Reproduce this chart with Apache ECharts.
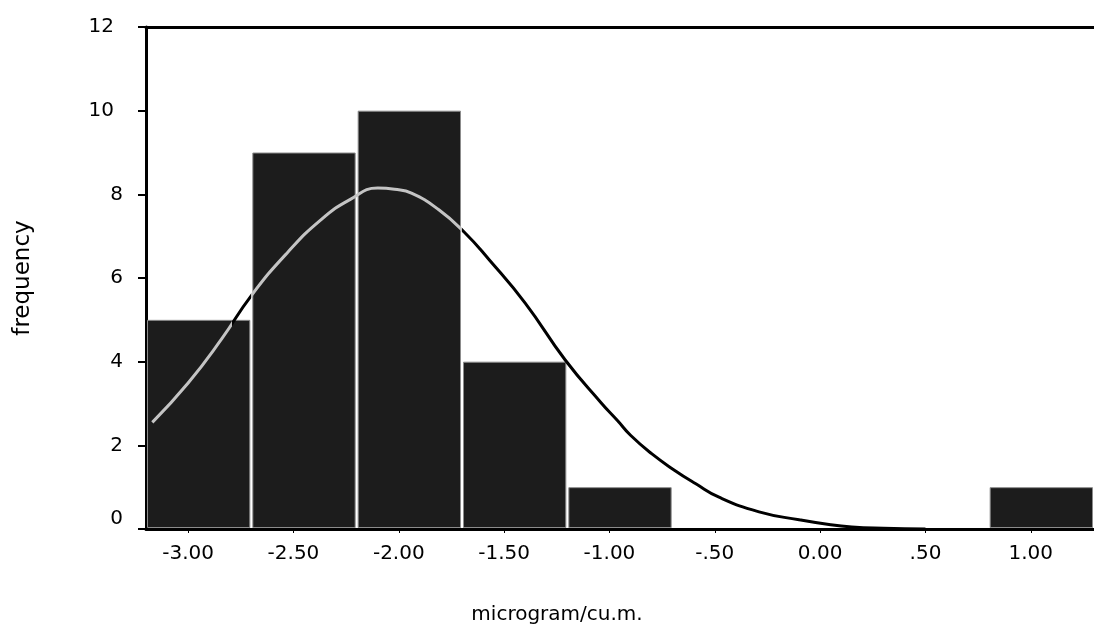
<!DOCTYPE html>
<html>
<head>
<meta charset="utf-8">
<script src="https://cdn.jsdelivr.net/npm/echarts@6/dist/echarts.min.js"></script>
<style>
html,body{margin:0;padding:0;background:#fff;}
#chart{width:1094px;height:632px;}
</style>
</head>
<body>
<div id="chart"></div>
<script>
// Histogram bins (edges) and counts
var binEdges = [-3.2, -2.7, -2.2, -1.7, -1.2, -0.7, -0.2, 0.3, 0.8, 1.3];
var binCounts = [5, 9, 10, 4, 1, 0, 0, 0, 1];

// Fitted normal curve
var curveX = [-3.17, -3.0, -2.84, -2.70, -2.53, -2.37, -2.23, -2.10, -2.02, -1.94, -1.81, -1.69, -1.57, -1.40, -1.21, -1.04, -0.96, -0.90, -0.80, -0.69, -0.59, -0.48, -0.29, -0.10, 0.05, 0.15, 0.30, 0.50];
var curveY = [2.55, 3.49, 4.55, 5.58, 6.60, 7.39, 7.88, 8.15, 8.12, 8.03, 7.63, 7.10, 6.43, 5.40, 4.04, 3.02, 2.58, 2.24, 1.80, 1.40, 1.08, 0.76, 0.41, 0.22, 0.10, 0.05, 0.02, 0.0];

// Tick labels
var xTickValues = [-3.0, -2.5, -2.0, -1.5, -1.0, -0.5, 0.0, 0.5, 1.0];
var xTickLabels = ['-3.00', '-2.50', '-2.00', '-1.50', '-1.00', '-.50', '0.00', '.50', '1.00'];
var yTickLabels = ['0', '2', '4', '6', '8', '10', '12'];

var xAxisTitle = 'microgram/cu.m.';
var yAxisTitle = 'frequency';

var FONT = 'DejaVu Sans';
var FS = 20;

var barData = [];
for (var i = 0; i < binCounts.length; i++) {
  if (binCounts[i] > 0) barData.push([binEdges[i], binEdges[i + 1], binCounts[i]]);
}
var lineData = curveX.map(function (x, i) { return [x, curveY[i]]; });

var chart = echarts.init(document.getElementById('chart'));
chart.setOption({
  animation: false,
  backgroundColor: '#ffffff',
  grid: { left: 146, right: -2, top: 27, bottom: 103, containLabel: false },
  xAxis: [{
    type: 'value',
    min: binEdges[0],
    max: binEdges[binEdges.length - 1],
    name: xAxisTitle,
    nameLocation: 'middle',
    nameGap: 76,
    nameTextStyle: { fontFamily: FONT, fontSize: FS, color: '#000', padding: [0, 126, 0, 0] },
    axisLine: { show: true, onZero: false, lineStyle: { color: '#000', width: 3 } },
    axisTick: { show: true, length: 4, customValues: xTickValues, lineStyle: { color: '#000', width: 1 } },
    axisLabel: {
      show: true, margin: 15, customValues: xTickValues,
      fontFamily: FONT, fontSize: FS, color: '#000',
      formatter: function (v) {
        for (var k = 0; k < xTickValues.length; k++) {
          if (Math.abs(xTickValues[k] - v) < 1e-6) return xTickLabels[k];
        }
        return '';
      }
    },
    splitLine: { show: false }
  }, {
    type: 'value',
    position: 'top',
    min: binEdges[0],
    max: binEdges[binEdges.length - 1],
    axisLine: { show: true, onZero: false, lineStyle: { color: '#000', width: 3 } },
    axisTick: { show: false },
    axisLabel: { show: false },
    splitLine: { show: false }
  }],
  yAxis: {
    type: 'value',
    min: 0, max: 12, interval: 2,
    name: yAxisTitle,
    nameLocation: 'middle',
    nameGap: 111,
    nameTextStyle: { fontFamily: FONT, fontSize: 23, color: '#000' },
    axisLine: { show: true, onZero: false, lineStyle: { color: '#000', width: 3 } },
    axisTick: { show: true, length: 8, lineStyle: { color: '#000', width: 2 } },
    axisLabel: {
      margin: 23, fontFamily: FONT, fontSize: FS, color: '#000',
      formatter: function (v) {
        var s = yTickLabels[Math.round(v / 2)];
        if (v === 0) return '{z|' + s + '}';
        if (s.length > 1) return '{w|' + s + '}';
        return s;
      },
      rich: {
        z: { fontFamily: FONT, fontSize: FS, color: '#000', padding: [0, 0, 20, 0] },
        w: { fontFamily: FONT, fontSize: FS, color: '#000', padding: [0, 9, 0, 0] }
      }
    },
    splitLine: { show: false }
  },
  visualMap: {
    show: false,
    type: 'piecewise',
    seriesIndex: 1,
    dimension: 0,
    pieces: [
      { lt: -2.79, color: '#c4c4c4' },
      { gte: -2.79, lt: -2.70, color: '#000000' },
      { gte: -2.70, lt: -1.70, color: '#c4c4c4' },
      { gte: -1.70, color: '#000000' }
    ]
  },
  series: [{
    type: 'custom',
    clip: true,
    z: 2,
    data: barData,
    encode: { x: [0, 1], y: 2 },
    renderItem: function (params, api) {
      var p0 = api.coord([api.value(0), api.value(2)]);
      var p1 = api.coord([api.value(1), 0]);
      var x = p0[0] + 1.5, w = p1[0] - p0[0] - 3;
      var y = p0[1] + 0.5, h = p1[1] - p0[1] - 2;
      return {
        type: 'rect',
        shape: { x: x, y: y, width: w, height: h },
        style: { fill: '#1c1c1c', stroke: '#8c8c8c', lineWidth: 1 }
      };
    }
  }, {
    type: 'line',
    z: 3,
    data: lineData,
    smooth: 0.5,
    symbol: 'none',
    lineStyle: { width: 3 }
  }]
});
</script>
</body>
</html>
